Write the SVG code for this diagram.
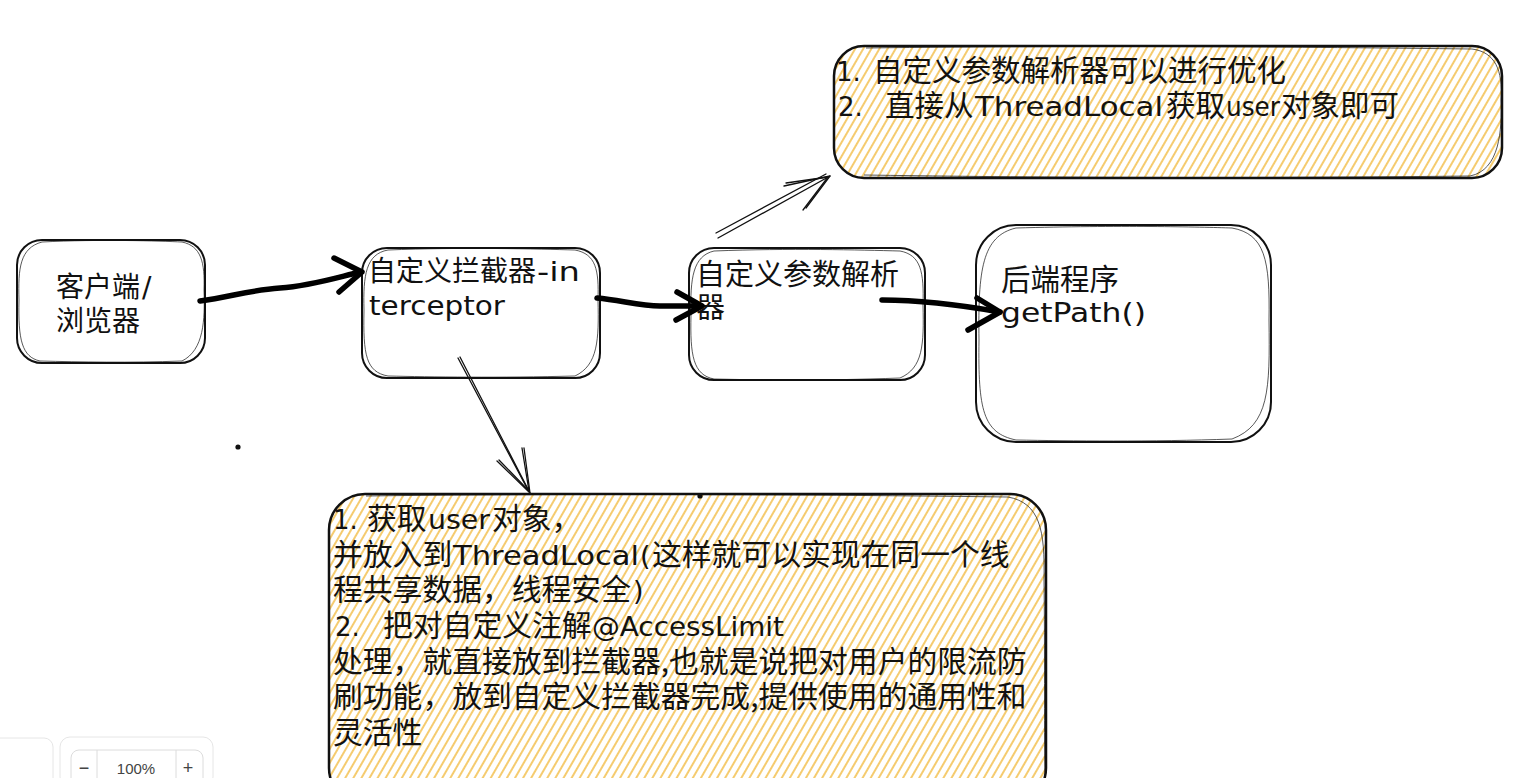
<svg xmlns="http://www.w3.org/2000/svg" width="1516" height="778" viewBox="0 0 1516 778">
<style>
.box{fill:#fff;stroke:#111;stroke-width:2}
.note{fill:url(#hatch);stroke:#111;stroke-width:2.5}
.sk{fill:none;stroke:#111;stroke-width:1;opacity:.7}
.cjk{font-family:"Noto Sans CJK SC","Noto Sans",sans-serif;fill:#111}
.lat{font-family:"DejaVu Sans","Liberation Sans",sans-serif;fill:#111}
.thick{fill:none;stroke:#000;stroke-width:5.5;stroke-linecap:round;stroke-linejoin:round}
.thin{fill:none;stroke:#111;stroke-width:1.3;stroke-linecap:round;stroke-linejoin:round}
.ui{fill:#fff;stroke:#e6e6e6;stroke-width:1}
.uit{font-family:"Liberation Sans",sans-serif;fill:#444;text-anchor:middle}
</style>
<defs>
<pattern id="hatch" patternUnits="userSpaceOnUse" width="7" height="7" patternTransform="rotate(30)">
<rect width="7" height="7" fill="#fff"/>
<line x1="2" y1="0" x2="2" y2="7" stroke="#f2b632" stroke-width="1.4"/>
</pattern>
</defs>
<rect width="1516" height="778" fill="#fff"/>

<g id="note-top">
<rect class="note" x="834" y="46" width="668" height="132" rx="30"/>
<path class="sk" d="M866,48 C1100,45 1300,47 1472,49 C1495,52 1503,70 1501,100 C1502,130 1500,170 1470,176 C1200,179 1000,177 864,175"/>
<text class="cjk" font-size="29.5"><tspan class="lat" x="836" y="81" font-size="26">1.</tspan><tspan x="873" y="81">自定义参数解析器可以进行优化</tspan><tspan class="lat" x="838" y="116" font-size="26">2.</tspan><tspan x="885" y="116">直接从</tspan><tspan class="lat" x="975" y="116" font-size="27" textLength="188" lengthAdjust="spacingAndGlyphs">ThreadLocal</tspan><tspan x="1166" y="116">获取</tspan><tspan class="lat" x="1226" y="116" font-size="27" textLength="54" lengthAdjust="spacingAndGlyphs">user</tspan><tspan x="1281" y="116">对象即可</tspan></text>
</g>

<g id="node-client">
<rect class="box" x="17" y="240" width="188" height="123" rx="25"/>
<path class="sk" d="M42,242 C100,239 160,241 182,242 C201,246 205,262 204,290 C205,320 204,350 182,361 C130,363 80,362 40,361 C22,357 18,340 19,300 C18,268 20,248 42,242"/>
<text class="cjk" font-size="28"><tspan x="56" y="297">客户端</tspan><tspan class="lat" x="142" y="297">/</tspan><tspan x="56" y="331">浏览器</tspan></text>
</g>

<g id="node-interceptor">
<rect class="box" x="362" y="248" width="238" height="130" rx="25"/>
<path class="sk" d="M388,250 C460,247 540,249 575,250 C596,254 599,270 598,300 C599,340 598,365 575,376 C500,378 430,377 388,376 C366,372 363,355 364,310 C363,275 366,254 388,250"/>
<text class="cjk" font-size="28"><tspan x="368" y="281">自定义拦截器</tspan><tspan class="lat" x="537" y="281" font-size="26" textLength="43" lengthAdjust="spacingAndGlyphs">-in</tspan><tspan class="lat" x="369" y="315" font-size="26" textLength="136" lengthAdjust="spacingAndGlyphs">terceptor</tspan></text>
</g>

<g id="node-resolver">
<rect class="box" x="689" y="248" width="236" height="132" rx="25"/>
<path class="sk" d="M714,251 C790,248 860,250 900,251 C921,255 924,272 923,305 C924,345 923,368 900,378 C820,381 760,380 714,379 C693,375 690,355 691,315 C690,278 693,256 714,251"/>
<text class="cjk" font-size="29"><tspan x="696" y="285">自定义参数解析</tspan><tspan x="696" y="318">器</tspan></text>
</g>

<g id="node-backend">
<rect class="box" x="976" y="225" width="295" height="217" rx="40"/>
<path class="sk" d="M1016,228 C1120,225 1200,227 1232,228 C1265,234 1270,260 1269,320 C1270,390 1269,425 1232,439 C1150,442 1070,441 1016,440 C983,433 978,410 979,340 C978,270 982,236 1016,228"/>
<text class="cjk" font-size="29.5"><tspan x="1001" y="290">后端程序</tspan><tspan class="lat" x="1001" y="322" font-size="27" textLength="145" lengthAdjust="spacingAndGlyphs">getPath()</tspan></text>
</g>

<g id="note-bottom">
<rect class="note" x="329" y="494" width="717" height="310" rx="36"/>
<path class="sk" d="M366,496 C600,493 850,495 1008,497 C1040,503 1045,530 1044,580 C1045,650 1044,720 1045,778"/>
<text class="cjk" font-size="29.8"><tspan class="lat" x="333" y="529" font-size="26">1.</tspan><tspan x="367" y="529">获取</tspan><tspan class="lat" x="428" y="529" font-size="27" textLength="62" lengthAdjust="spacingAndGlyphs">user</tspan><tspan x="492" y="529">对象，</tspan><tspan x="333" y="565">并放入到</tspan><tspan class="lat" x="453" y="565" font-size="27" textLength="186" lengthAdjust="spacingAndGlyphs">ThreadLocal</tspan><tspan class="lat" x="640" y="565" font-size="27">(</tspan><tspan x="652" y="565">这样就可以实现在同一个线</tspan><tspan x="333" y="600">程共享数据，线程安全</tspan><tspan class="lat" x="633" y="600" font-size="27">)</tspan><tspan class="lat" x="335" y="636" font-size="26">2.</tspan><tspan x="383" y="636">把对自定义注解</tspan><tspan class="lat" x="592" y="636" font-size="27" textLength="192" lengthAdjust="spacingAndGlyphs">@AccessLimit</tspan><tspan x="333" y="672">处理，就直接放到拦截器,也就是说把对用户的限流防</tspan><tspan x="333" y="707">刷功能，放到自定义拦截器完成,提供使用的通用性和</tspan><tspan x="333" y="743">灵活性</tspan></text>
</g>

<g id="connectors">
<path class="thick" d="M200,301 C230,297 250,290 280,288 C310,286 335,278 360,272"/>
<path class="thick" d="M334,258 L362,272 L339,292"/>
<path class="thick" d="M597,298 C620,300 640,306 660,306 C675,306 688,306 700,306"/>
<path class="thick" d="M677,292 L702,306 L676,320"/>
<path class="thick" d="M882,300 C920,300 955,304 1000,312"/>
<path class="thick" d="M977,298 L1000,312 L968,330"/>
<path class="thin" d="M718,238 L830,176"/>
<path class="thin" d="M716,233 L826,174"/>
<path class="thin" d="M784,186 L830,176 L806,208"/>
<path class="thin" d="M786,183 L828,177 L803,210"/>
<path class="thin" d="M460,357 L530,493"/>
<path class="thin" d="M458,358 L528,490"/>
<path class="thin" d="M497,461 L530,493 L524,448"/>
<path class="thin" d="M499,460 L529,491 L522,448"/>
</g>

<g id="dots">
<circle cx="238" cy="447" r="2.6" fill="#111"/>
<circle cx="700" cy="496" r="2.6" fill="#111"/>
</g>

<g id="zoom-ui">
<rect class="ui" x="-10" y="738" width="63" height="50" rx="9"/>
<rect class="ui" x="60" y="737" width="153" height="50" rx="10"/>
<rect x="71" y="750" width="132" height="40" rx="8" fill="none" stroke="#dcdcdc"/>
<line x1="97" y1="750" x2="97" y2="778" stroke="#dcdcdc"/>
<line x1="176" y1="750" x2="176" y2="778" stroke="#dcdcdc"/>
<text class="uit" x="84" y="774" font-size="18">−</text>
<text class="uit" x="136" y="774" font-size="15">100%</text>
<text class="uit" x="188" y="774" font-size="18">+</text>
</g>
</svg>
